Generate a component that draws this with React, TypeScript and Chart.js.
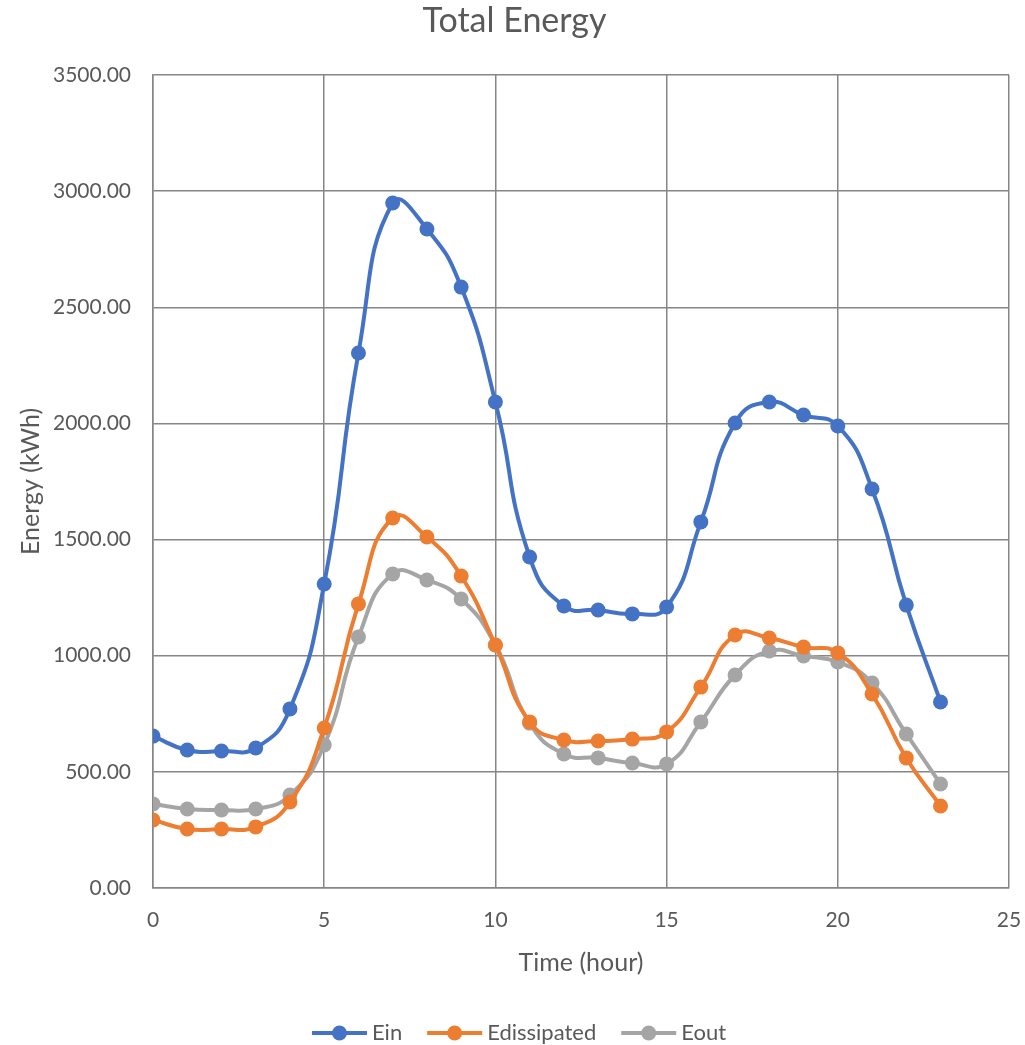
import React, { useEffect, useRef } from "react";
import { Chart, registerables } from "chart.js";

Chart.register(...registerables);

const hours = [0, 1, 2, 3, 4, 5, 6, 7, 8, 9, 10, 11, 12, 13, 14, 15, 16, 17, 18, 19, 20, 21, 22, 23];
const ein = [654, 594, 590, 603, 771, 1309, 2303, 2949, 2837, 2587, 2092, 1425, 1214, 1197, 1180, 1210, 1576, 2002, 2092, 2036, 1989, 1718, 1218, 801];
const edissipated = [293, 254, 254, 263, 370, 689, 1223, 1593, 1511, 1343, 1046, 715, 637, 633, 641, 672, 865, 1089, 1076, 1037, 1012, 835, 560, 353];
const eout = [362, 340, 336, 340, 400, 616, 1081, 1352, 1326, 1244, 1046, 710, 577, 560, 538, 534, 715, 917, 1020, 999, 973, 882, 663, 448];
const seriesNames = ["Ein", "Edissipated", "Eout"];
const seriesColors = ["#4472C4", "#ED7D31", "#A5A5A5"];
const seriesValues = [ein, edissipated, eout];

const FONT = "Lato, 'Open Sans', sans-serif";
const TEXT = "#595959";
const GRID = "#868686";

const legendPlugin = {
  id: "excelLegend",
  afterDraw(chart: any) {
    const ctx = chart.ctx;
    const y = 1033;
    const lineLen = 55;
    const gapText = 5;
    const gapItem = 25;
    ctx.save();
    ctx.font = `22px ${FONT}`;
    const items = chart.data.datasets.map((d: any) => ({
      label: d.label,
      color: d.borderColor,
      w: lineLen + gapText + ctx.measureText(d.label).width,
    }));
    const total = items.reduce((s: number, it: any) => s + it.w, 0) + gapItem * (items.length - 1);
    let x = 519 - total / 2;
    for (const it of items) {
      ctx.strokeStyle = it.color;
      ctx.lineWidth = 4;
      ctx.beginPath();
      ctx.moveTo(x, y);
      ctx.lineTo(x + lineLen, y);
      ctx.stroke();
      ctx.fillStyle = it.color;
      ctx.beginPath();
      ctx.arc(x + lineLen / 2, y, 7.5, 0, Math.PI * 2);
      ctx.fill();
      ctx.fillStyle = TEXT;
      ctx.textAlign = "left";
      ctx.textBaseline = "middle";
      ctx.fillText(it.label, x + lineLen + gapText, y);
      x += it.w + gapItem;
    }
    ctx.restore();
  },
};

export default function App() {
  const ref = useRef<HTMLCanvasElement | null>(null);
  useEffect(() => {
    document.body.style.margin = "0";
    const canvas = ref.current;
    if (!canvas) return;
    const chart = new Chart(canvas, {
      type: "line",
      data: {
        datasets: seriesNames.map((name, i) => ({
          label: name,
          data: hours.map((h, j) => ({ x: h, y: seriesValues[i][j] })),
          borderColor: seriesColors[i],
          backgroundColor: seriesColors[i],
          borderWidth: 4,
          pointRadius: 7.5,
          pointHoverRadius: 7.5,
          pointBorderWidth: 0,
          tension: 0.5,
          fill: false,
        })),
      },
      options: {
        responsive: false,
        animation: false,
        layout: { padding: { top: 0, right: 16, left: 20, bottom: 0 } },
        plugins: {
          legend: { display: false },
          tooltip: { enabled: false },
          title: {
            display: true,
            text: "Total Energy",
            color: TEXT,
            font: { family: FONT, size: 34, weight: "normal" },
            padding: { top: 0.6, bottom: 33.6 },
          },
        },
        scales: {
          x: {
            type: "linear",
            min: 0,
            max: 25,
            afterFit(scale: any) {
              scale.height = 157;
              scale.paddingRight = 0;
              scale.paddingLeft = 0;
            },
            ticks: {
              stepSize: 5,
              color: TEXT,
              font: { family: FONT, size: 21 },
              padding: 20,
              maxRotation: 0,
            },
            grid: { color: GRID, lineWidth: 1.5, drawTicks: false },
            border: { color: GRID, width: 1.5 },
            title: {
              display: true,
              text: "Time (hour)",
              color: TEXT,
              font: { family: FONT, size: 25 },
              padding: { top: 0, bottom: 67 },
            },
          },
          y: {
            type: "linear",
            min: 0,
            max: 3500,
            afterFit(scale: any) {
              scale.width = 133;
            },
            ticks: {
              stepSize: 500,
              color: TEXT,
              font: { family: FONT, size: 21 },
              padding: 22,
              callback: (v: any) => Number(v).toFixed(2),
            },
            grid: { color: GRID, lineWidth: 1.5, drawTicks: false },
            border: { color: GRID, width: 1.5 },
            title: {
              display: true,
              text: "Energy (kWh)",
              color: TEXT,
              font: { family: FONT, size: 25 },
              padding: { top: -4, bottom: 0 },
            },
          },
        },
      },
      plugins: [legendPlugin],
    } as any);
    return () => chart.destroy();
  }, []);
  return (
    <div style={{ width: 1025, height: 1045 }}>
      <canvas ref={ref} width={1025} height={1045} />
    </div>
  );
}
